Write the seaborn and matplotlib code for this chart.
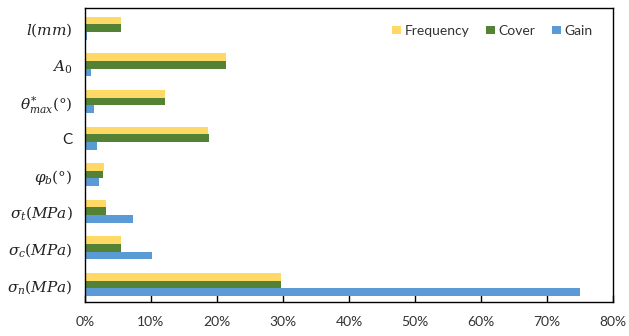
import matplotlib
matplotlib.use("Agg")
import matplotlib.pyplot as plt
import seaborn as sns
import pandas as pd
from matplotlib.ticker import FuncFormatter

# Feature labels (top to bottom)
features = [r"$l(mm)$", r"$A_0$", r"$\theta^{*}_{max}(°)$", "C",
            r"$\varphi_b(°)$", r"$\sigma_t(MPa)$", r"$\sigma_c(MPa)$", r"$\sigma_n(MPa)$"]
series = ["Frequency", "Cover", "Gain"]

# Importance shares in percent
frequency = [5.4, 21.3, 12.1, 18.6, 2.9, 3.2, 5.4, 29.7]
cover = [5.4, 21.3, 12.1, 18.8, 2.7, 3.2, 5.4, 29.7]
gain = [0.25, 0.86, 1.3, 1.9, 2.1, 7.3, 10.2, 75.0]

xticks = [0, 10, 20, 30, 40, 50, 60, 70, 80]
colors = ["#FFD966", "#548235", "#5B9BD5"]

df = pd.DataFrame({
    "feature": features * 3,
    "series": [s for s in series for _ in features],
    "value": frequency + cover + gain,
})

sns.set_theme(style="white")
plt.rcParams["font.family"] = ["Lato", "DejaVu Sans"]
plt.rcParams["mathtext.fontset"] = "dejavuserif"

fig = plt.figure(figsize=(6.29, 3.36), dpi=100)
ax = fig.add_axes([0.135, 0.101, 0.840, 0.875])

sns.barplot(data=df, x="value", y="feature", hue="series", order=features,
            hue_order=series, palette=colors, orient="h", width=0.63,
            saturation=1, ax=ax, linewidth=0)

ax.set_xlim(0, 80)
ax.set_ylim(7.48, -0.55)
ax.set_xticks(xticks)
ax.xaxis.set_major_formatter(FuncFormatter(lambda v, _: f"{v:.0f}%"))
ax.set_xlabel("")
ax.set_ylabel("")
ax.tick_params(axis="x", direction="in", length=5, width=1, color="black",
               bottom=True, pad=10, labelsize=10, labelcolor="#333333")
ax.tick_params(axis="y", length=0, pad=9, labelsize=11, labelcolor="#222222")
for sp in ax.spines.values():
    sp.set_visible(True)
    sp.set_color("black")
    sp.set_linewidth(1)

leg = ax.legend(loc="upper right", ncol=3, frameon=False, fontsize=10,
                handlelength=0.6, handleheight=0.6, handletextpad=0.3,
                columnspacing=1.2, bbox_to_anchor=(0.985, 0.985))
for t in leg.get_texts():
    t.set_color("#333333")

fig.savefig("out.png", dpi=100)
